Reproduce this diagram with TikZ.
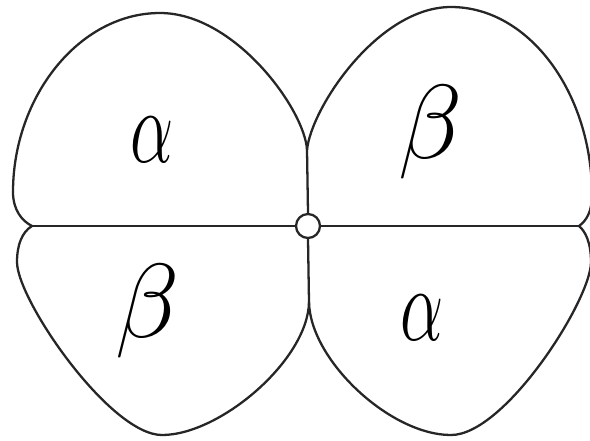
\documentclass[tikz,border=0pt]{standalone}
\usepackage{tikz}
\newcommand{\bigphase}[2]{\scalebox{#1}[2.41]{$#2$}}
\begin{document}
\begin{tikzpicture}[x=0.02cm,y=-0.02cm,line width=1.3pt,line join=round]
\tikzstyle{lobe}=[draw=black!85]
\tikzstyle{lab}=[font=\fontsize{24.88}{25}\selectfont,inner sep=0pt]
\useasboundingbox (0,0) rectangle (590,440);
% junctions and the small ring in the middle
\node[circle,draw=black!85,minimum size=0.48cm,inner sep=0pt] (c) at (308,226) {};
\coordinate (jl) at (32,226);
\coordinate (jr) at (579,226);
\coordinate (st) at (307,150);
\coordinate (sb) at (309,302);
\draw[black!85] (jl) -- (c.west) (c.east) -- (jr);
\draw[black!85] (c.north) -- (st) (c.south) -- (sb);
% four lobes
\draw[lobe] (st) .. controls (305,110) and (235,13) .. (160,13)
  .. controls (79,13) and (13,97) .. (13,192)
  .. controls (13,210) and (22,221) .. (jl);
\draw[lobe] (st) .. controls (311,108) and (378,7) .. (451,7)
  .. controls (529,7) and (592,93) .. (592,195)
  .. controls (592,212) and (586,221) .. (jr);
\draw[lobe] (jl) .. controls (22,232) and (17,245) .. (17,262)
  .. controls (17,300) and (110,435) .. (162,435)
  .. controls (220,435) and (308,360) .. (sb);
\draw[lobe] (sb) .. controls (310,360) and (390,435) .. (451,435)
  .. controls (505,435) and (591,300) .. (591,262)
  .. controls (591,242) and (585,231) .. (jr);
% phase labels
\node[lab] (a1) at (152,140) {\bigphase{1.57}{\alpha}};
\node[lab] (b1) at (431,132) {\bigphase{2.41}{\beta}};
\node[lab] (b2) at (148,311) {\bigphase{2.41}{\beta}};
\node[lab] (a2) at (422,318) {\bigphase{1.57}{\alpha}};
\end{tikzpicture}
\end{document}
